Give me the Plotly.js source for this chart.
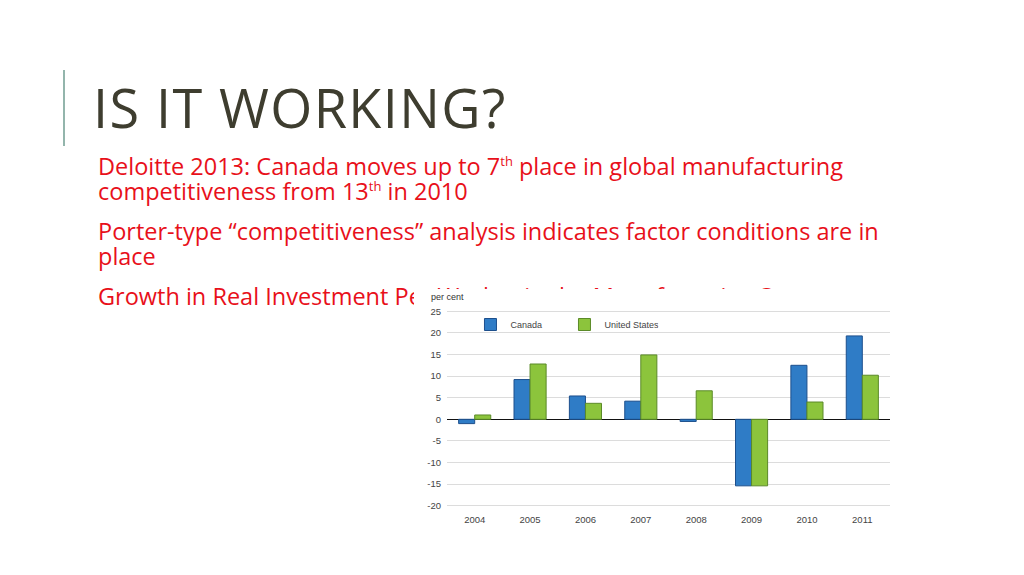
<!DOCTYPE html>
<html>
<head>
<meta charset="utf-8">
<script src="https://cdn.plot.ly/plotly-3.0.1.min.js"></script>
<style>
  body { margin: 0; width: 1024px; height: 575px; background: #fff; position: relative; overflow: hidden; font-family: "Open Sans", "Noto Sans", sans-serif; }
  #bar { position: absolute; left: 63px; top: 70px; width: 2px; height: 76px; background: #93b5ac; }
  #title { position: absolute; left: 93px; top: 70px; font-size: 54px; color: #3e3d2f; letter-spacing: 1.4px; white-space: nowrap; }
  #body { position: absolute; left: 98px; top: 154px; font-size: 23.5px; color: #e8101a; line-height: 25px; white-space: nowrap; }
  #body p { margin: 0 0 15px 0; }
  #body sup { font-size: 13px; vertical-align: 9px; line-height: 0; }
  #chart { position: absolute; left: 414px; top: 289px; width: 482px; height: 238px; background: #fff; }
</style>
</head>
<body>
<div id="bar"></div>
<div id="title">IS IT WORKING?</div>
<div id="body">
  <p>Deloitte 2013: Canada moves up to 7<sup>th</sup> place in global manufacturing<br>competitiveness from 13<sup>th</sup> in 2010</p>
  <p>Porter-type “competitiveness” analysis indicates factor conditions are in<br>place</p>
  <p>Growth in Real Investment Per Worker in the Manufacturing Sector</p>
</div>
<div id="chart"></div>
<script>
const years = ['2004', '2005', '2006', '2007', '2008', '2009', '2010', '2011'];
const canada = [-1.0, 9.2, 5.4, 4.2, -0.5, -15.4, 12.5, 19.3];
const unitedStates = [1.0, 12.8, 3.7, 14.9, 6.6, -15.4, 4.0, 10.2];
const yTicks = [25, 20, 15, 10, 5, 0, -5, -10, -15, -20];

var canadaBars = {
    x: years,
    y: canada,
    type: 'bar',
    name: 'Canada',
    marker: {color: '#2f7cc6', line: {color: '#1d4f8c', width: 1}}
};

var usBars = {
    x: years,
    y: unitedStates,
    type: 'bar',
    name: 'United States',
    marker: {color: '#8cc43c', line: {color: '#5b8a28', width: 1}}
};

var layout = {
    width: 482,
    height: 238,
    margin: { l: 33, r: 6, t: 21, b: 20 },
    paper_bgcolor: '#fff',
    plot_bgcolor: '#fff',
    font: { family: 'Liberation Sans, Arial, sans-serif', size: 9.5, color: '#444' },
    barmode: 'group',
    bargap: 0.42,
    bargroupgap: 0,
    showlegend: true,
    legend: {
        orientation: 'h',
        x: 0.053, y: 1.0,
        xanchor: 'left', yanchor: 'top',
        bgcolor: 'rgba(0,0,0,0)',
        itemwidth: 30,
        entrywidth: 49,
        font: { size: 9, color: '#444' }
    },
    xaxis: {
        type: 'category',
        showgrid: false,
        showline: false,
        ticks: '',
        ticklabelstandoff: 5,
        tickfont: { size: 9.5, color: '#444' }
    },
    yaxis: {
        range: [-20.3, 25.3],
        tickvals: yTicks,
        ticktext: yTicks.map(String),
        showgrid: true,
        gridcolor: '#dcdcdc',
        gridwidth: 1,
        zeroline: true,
        zerolinecolor: '#111',
        zerolinewidth: 1.5,
        showline: false,
        ticks: '',
        ticklabelstandoff: 5,
        tickfont: { size: 9.5, color: '#444' }
    },
    annotations: [{
        text: 'per cent',
        xref: 'paper', yref: 'paper',
        x: -0.04, y: 1.03,
        xanchor: 'left', yanchor: 'bottom',
        showarrow: false,
        font: { size: 9, color: '#333' }
    }]
};

Plotly.newPlot('chart', [canadaBars, usBars], layout, {displayModeBar: false, staticPlot: true});
</script>
</body>
</html>
